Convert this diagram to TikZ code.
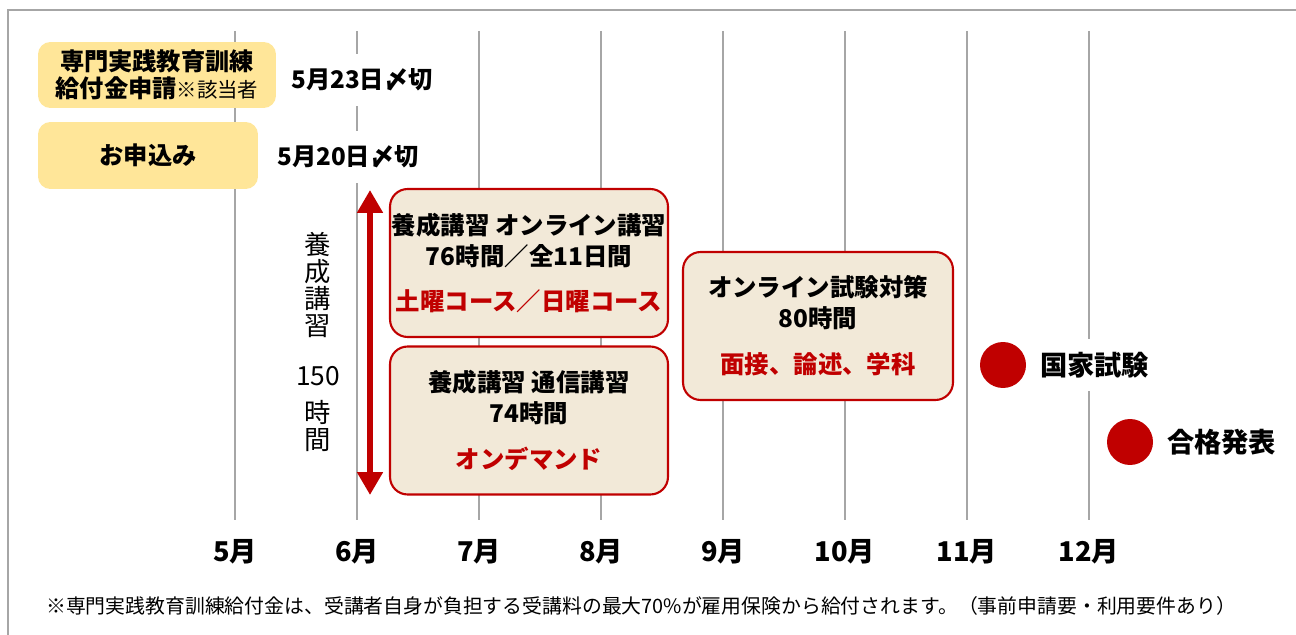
\documentclass[tikz,border=0pt]{standalone}
\usepackage{fontspec}
\setmainfont{Noto Sans CJK JP}
\usetikzlibrary{arrows.meta, positioning}

\definecolor{boxred}{HTML}{C00000}
\definecolor{boxbeige}{HTML}{F2E9D8}
\definecolor{boxyellow}{HTML}{FFE699}
\definecolor{linegray}{HTML}{A6A6A6}

\newcommand{\hl}[1]{\textcolor{boxred}{#1}}

\tikzset{
    gridline/.style={linegray, line width=1.4pt},
    yellowbox/.style={fill=boxyellow, rounded corners=7pt, align=center, inner sep=0pt,
        font=\fontsize{13.8}{15.3}\selectfont\bfseries},
    coursebox/.style={draw=boxred, fill=boxbeige, line width=1.2pt, rounded corners=10pt,
        align=center, inner sep=0pt, minimum height=2.96cm,
        font=\fontsize{13.9}{17.6}\selectfont\bfseries},
    deadline/.style={fill=white, inner sep=2pt, minimum height=1.05cm,
        font=\fontsize{13.8}{15.3}\selectfont\bfseries},
    monthlabel/.style={font=\fontsize{15.5}{17}\selectfont\bfseries},
    reddot/.style={circle, fill=boxred, minimum size=0.92cm, inner sep=0pt},
    milestone/.style={fill=white, inner sep=2pt, minimum height=1.05cm,
        font=\fontsize{15.5}{17}\selectfont\bfseries},
    redarrow/.style={boxred, line width=3.8pt,
        {Triangle[width=14pt,length=13pt]}-{Triangle[width=14pt,length=13pt]}}
}

\begin{document}
\begin{tikzpicture}[x=0.02cm, y=-0.02cm]
    \useasboundingbox (0,0) rectangle (1296,635);

    % frame
    \coordinate (fr1) at (1296,10);
    \coordinate (fr2) at (8,10);
    \coordinate (fr3) at (8,635);
    \draw[gridline] (fr1) -- (fr2) -- (fr3);

    % months
    \foreach \m [count=\i from 0] in {5,...,12} {
        \draw[gridline] (235+122*\i,31) -- (235+122*\i,520);
        \node[monthlabel] (m\m) at (235+122*\i,552) {\m 月};
    }

    % application
    \node[yellowbox, minimum width=4.76cm, minimum height=1.32cm] (grant) at (157,75)
        {専門実践教育訓練\\給付金申請{\mdseries\fontsize{11.6}{15.3}\selectfont ※該当者}};
    \node[yellowbox, minimum width=4.4cm, minimum height=1.34cm] (apply) at (148,155.5) {お申込み};
    \node[deadline] (grantdl) at (362,80) {5月23日〆切};
    \node[deadline] (applydl) at (348,157) {5月20日〆切};

    % total hours
    \node[align=center, font=\fontsize{15}{15.3}\selectfont] (total) at (318,342)
        {養\\成\\講\\習\\[13.6pt]150\\[5.7pt]時\\間};
    \coordinate (arrtop) at (370,190);
    \coordinate (arrbot) at (370,495);
    \draw[redarrow] (arrtop) -- (arrbot);

    % courses
    \node[coursebox, minimum width=5.56cm] (online) at (529,263)
        {養成講習 オンライン講習\\76時間／全11日間\\[8.5pt]\hl{土曜コース／日曜コース}};
    \node[coursebox, minimum width=5.56cm] (corresp) at (529,420.5)
        {養成講習 通信講習\\74時間\\[8.5pt]\hl{オンデマンド}};
    \node[coursebox, minimum width=5.4cm] (exprep) at (818,326)
        {オンライン試験対策\\80時間\\[8.5pt]\hl{面接、論述、学科}};

    % exam and result
    \node[reddot] (examdot) at (1003,365) {};
    \node[milestone, right=0.2cm of examdot] (exam) {国家試験};
    \node[reddot] (passdot) at (1130,442) {};
    \node[milestone, right=0.2cm of passdot] (pass) {合格発表};

    \node[anchor=west, font=\fontsize{11.3}{13}\selectfont] (note) at (40,606)
        {※専門実践教育訓練給付金は、受講者自身が負担する受講料の最大70\%が雇用保険から給付されます。（事前申請要・利用要件あり）};
\end{tikzpicture}
\end{document}
